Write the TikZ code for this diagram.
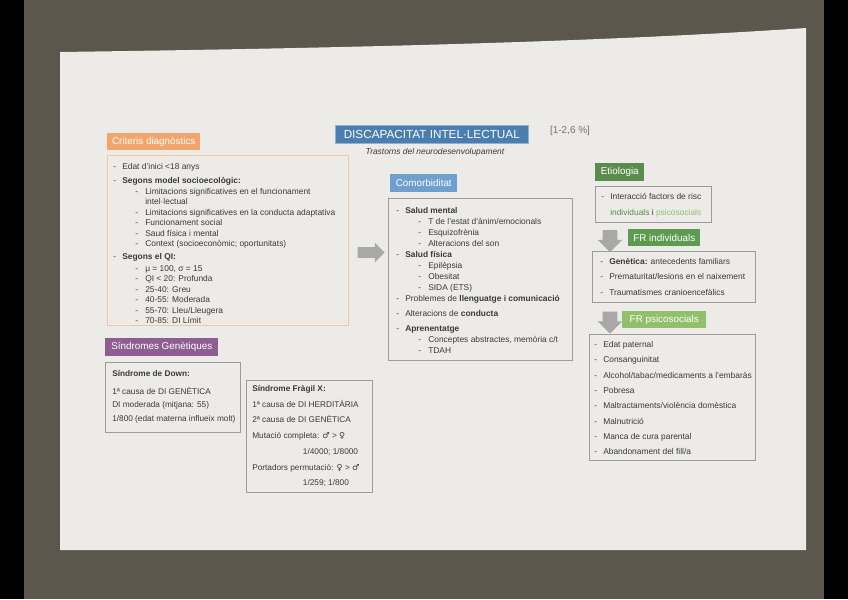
\documentclass[tikz,border=0pt]{standalone}
\usepackage{fontspec}
\setmainfont{Liberation Sans}
\newfontfamily\symfont{DejaVu Sans}
\usepackage{tikz}
\usetikzlibrary{positioning,shapes.arrows}
\usepackage{xcolor}

\definecolor{desk}{HTML}{5C574D}
\definecolor{paper}{HTML}{ECEBE8}
\definecolor{ink}{HTML}{3A3A3A}
\definecolor{titleblue}{HTML}{4A7DB0}
\definecolor{comblue}{HTML}{6F9FCF}
\definecolor{critorange}{HTML}{F1A56D}
\definecolor{critline}{HTML}{F2C7A6}
\definecolor{sindpurple}{HTML}{8E5D92}
\definecolor{etigreen}{HTML}{5A8C4D}
\definecolor{indgreen}{HTML}{5E9B50}
\definecolor{psigreen}{HTML}{92BF69}
\definecolor{boxline}{HTML}{9C9C9C}
\definecolor{arrowgray}{HTML}{A8A8A8}

\newcommand{\itm}{\makebox[6.75pt][l]{-}}
\newcommand{\subitm}{\hspace*{16.5pt}\makebox[7.5pt][l]{-}}
\newcommand{\lead}{\rule{0pt}{6pt}}

\tikzset{
  header/.style={anchor=north west, inner sep=0pt, text=white, font=\fontsize{7.4}{8}\selectfont},
  panel/.style={anchor=north west, draw=boxline, line width=0.5pt, inner sep=0pt},
  itemlist/.style={anchor=north west, inner sep=0pt, align=left, text=ink},
  bigarrow/.style={single arrow, fill=arrowgray, inner xsep=0pt, single arrow head indent=0pt}
}

\begin{document}
\begin{tikzpicture}[x=0.75pt, y=-0.75pt, font=\fontsize{6.3}{7.9}\selectfont]
  \useasboundingbox (0,0) rectangle (848,599);
  % photo background and sheet
  \fill[black] (0,0) rectangle (848,599);
  \fill[desk] (24,0) rectangle (824,599);
  \fill[paper] (60,52) .. controls (350,48) and (600,42) .. (806,28) -- (806,550) -- (60,550) -- cycle;

  % title
  \node[header, fill=titleblue, draw=titleblue!60, minimum width=144.75pt, minimum height=13.5pt,
        font=\fontsize{8.8}{9}\selectfont] (title) at (335,125) {DISCAPACITAT INTEL·LECTUAL};
  \node[text=black!55, font=\fontsize{7.5}{8}\selectfont] (prev) at (570,131) {[1-2,6 \%]};
  \node[text=ink, font=\fontsize{6.3}{7}\itshape] (subtitle) at (435,152) {Trastorns del neurodesenvolupament};

  % criteris
  \node[header, fill=critorange, minimum width=69.75pt, minimum height=12.75pt] (crit) at (107,133) {Criteris diagnòstics};
  \node[panel, draw=critline, minimum width=180.75pt, minimum height=127.5pt] (critbox) at (107,155) {};
  \node[itemlist] (critlist) at (113,161.5) {\lead\itm Edat d'inici <18 anys\\[2.6pt]
    \itm\textbf{Segons model socioecològic:}\\
    \subitm Limitacions significatives en el funcionament\\
    \hspace*{24pt}intel·lectual\\
    \subitm Limitacions significatives en la conducta adaptativa\\
    \subitm Funcionament social\\
    \subitm Saud física i mental\\
    \subitm Context (socioeconòmic; oportunitats)\\[1.2pt]
    \itm\textbf{Segons el QI:}\\[1.2pt]
    \subitm μ = 100, σ = 15\\
    \subitm QI < 20: Profunda\\
    \subitm 25-40: Greu\\
    \subitm 40-55: Moderada\\
    \subitm 55-70: Lleu/Lleugera\\
    \subitm 70-85: DI Límit};

  % sindromes
  \node[header, fill=sindpurple, minimum width=84.75pt, minimum height=13.5pt] (sind) at (105,338) {Síndromes Genètiques};
  \node[panel, minimum width=101.25pt, minimum height=52.5pt] (downbox) at (105,362) {};
  \node[itemlist, font=\fontsize{6.2}{10.1}\selectfont] (downlist) at (112,368.2) {\lead\textbf{Síndrome de Down:}\\[3.4pt]
    1ª causa de DI GENÈTICA\\
    DI moderada (mitjana: 55)\\
    1/800 (edat materna influeix molt)};
  \node[panel, minimum width=94.5pt, minimum height=84pt] (fragbox) at (246,380) {};
  \node[itemlist, font=\fontsize{6.2}{11.8}\selectfont] (fraglist) at (252,383.2) {\lead\textbf{Síndrome Fràgil X:}\\
    1ª causa de DI HERDITÀRIA\\
    2ª causa de DI GENÈTICA\\
    Mutació completa: {\symfont ♂} > {\symfont ♀}\\
    \hspace*{38pt}1/4000; 1/8000\\
    Portadors permutació: {\symfont ♀} > {\symfont ♂}\\
    \hspace*{38pt}1/259; 1/800};

  % comorbiditat
  \node[bigarrow, inner ysep=3.75pt, single arrow head extend=3.4pt, minimum height=20.25pt] (arrcom) at (368.5,252.5) {};
  \node[header, fill=comblue, minimum width=50.25pt, minimum height=13.5pt] (comb) at (390,174) {Comorbiditat};
  \node[panel, minimum width=138pt, minimum height=121.5pt] (combox) at (388,198) {};
  \node[itemlist, font=\fontsize{6.3}{8.25}\selectfont] (comlist) at (396,205.2) {\lead\itm\textbf{Salud mental}\\
    \subitm T de l'estat d'ànim/emocionals\\
    \subitm Esquizofrènia\\
    \subitm Alteracions del son\\
    \itm\textbf{Salud física}\\
    \subitm Epilèpsia\\
    \subitm Obesitat\\
    \subitm SIDA (ETS)\\
    \itm Problemes de \textbf{llenguatge i comunicació}\\[3pt]
    \itm Alteracions de \textbf{conducta}\\[3pt]
    \itm\textbf{Aprenentatge}\\
    \subitm Conceptes abstractes, memòria c/t\\
    \subitm TDAH};

  % etiologia
  \node[header, fill=etigreen, minimum width=36.75pt, minimum height=13.5pt] (eti) at (595,163) {Etiologia};
  \node[panel, minimum width=87pt, minimum height=27pt] (etibox) at (595,186) {};
  \node[itemlist, font=\fontsize{6.3}{12}\selectfont] (etilist) at (601,191.2) {\lead\itm Interacció factors de risc\\
    \hspace*{6.75pt}{\color{etigreen}individuals} i {\color{psigreen}psicosocials}};

  \node[bigarrow, rotate=-90, inner ysep=5.25pt, single arrow head extend=3.75pt, minimum height=16.5pt] (arrind) at (610,237.5) {};
  \node[header, fill=indgreen, minimum width=54pt, minimum height=12.75pt] (ind) at (628,229) {FR individuals};
  \node[panel, minimum width=122.25pt, minimum height=38.25pt] (indbox) at (592,251) {};
  \node[itemlist, font=\fontsize{6.3}{11.6}\selectfont] (indlist) at (600,256.2) {\lead\itm\textbf{Genètica:} antecedents familiars\\
    \itm Prematuritat/lesions en el naixement\\
    \itm Traumatismes cranioencefàlics};

  \node[bigarrow, rotate=-90, inner ysep=5.25pt, single arrow head extend=3.75pt, minimum height=16.5pt] (arrpsi) at (610,319) {};
  \node[header, fill=psigreen, minimum width=63pt, minimum height=12.75pt] (psi) at (622,311) {FR psicosocials};
  \node[panel, minimum width=124.5pt, minimum height=94.5pt] (psibox) at (589,334) {};
  \node[itemlist, font=\fontsize{6.3}{11.5}\selectfont] (psilist) at (594,339.2) {\lead\itm Edat paternal\\
    \itm Consanguinitat\\
    \itm Alcohol/tabac/medicaments a l'embaràs\\
    \itm Pobresa\\
    \itm Maltractaments/violència domèstica\\
    \itm Malnutrició\\
    \itm Manca de cura parental\\
    \itm Abandonament del fill/a};
\end{tikzpicture}
\end{document}
